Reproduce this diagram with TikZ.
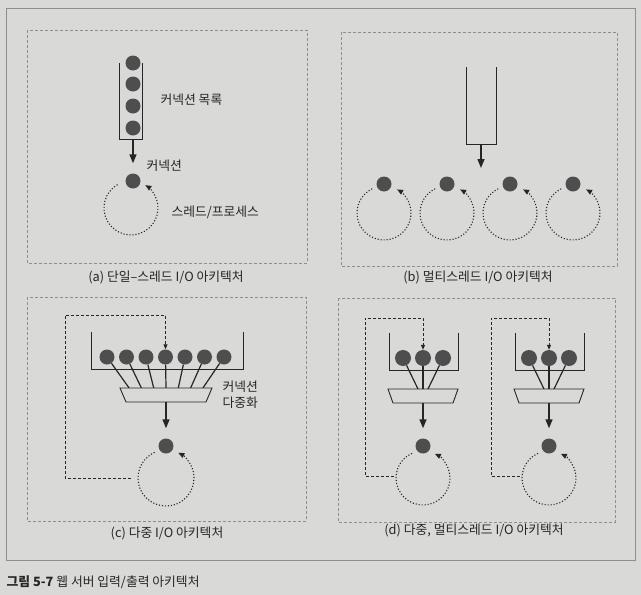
\documentclass[tikz,border=0pt]{standalone}
\usepackage{fontspec}
\setmainfont{Noto Sans CJK KR}
\usetikzlibrary{arrows.meta,positioning}
\definecolor{paper}{HTML}{D9D9D7}
\definecolor{ballgray}{HTML}{4E4E4E}
\definecolor{ink}{HTML}{262626}
\definecolor{framegray}{HTML}{8E8E8E}

\begin{document}
\begin{tikzpicture}[
  x=1pt, y=-1pt,
  font=\fontsize{12.8}{16}\selectfont, text=ink,
  panel/.style={draw=framegray, line width=0.6pt, dash pattern=on 3pt off 2pt},
  ball/.style={circle, fill=ballgray, inner sep=0pt, minimum size=15pt},
  tube/.style={draw=ink, line width=0.9pt},
  spoke/.style={draw=ink, line width=1.2pt},
  mux/.style={draw=ink, line width=0.9pt, fill=paper},
  arr/.style={draw=ink, line width=1.4pt, -{Triangle[length=9pt,width=7pt]}},
  spin/.style={draw=ink, line width=1.1pt, dash pattern=on 1.1pt off 1.9pt,
               -{Triangle[length=6pt,width=5pt]}},
  back/.style={draw=ink, line width=0.8pt, dash pattern=on 3pt off 2pt,
               -{Triangle[length=5pt,width=4pt]}},
  lab/.style={anchor=west},
]
% page and outer frame
\fill[paper] (0,0) rectangle (641,595);
\draw[framegray, line width=0.8pt] (6,8) rectangle (635,560);

% dashed panels
\draw[panel] (27,30) rectangle (307,263);
\draw[panel] (341,32) rectangle (617,266);
\draw[panel] (27,297) rectangle (306,521);
\draw[panel] (338,298) rectangle (615,522);

% (a) single thread
\draw[tube] (119,63) |- (142,139) -- (142,63);
\foreach \y [count=\i] in {63,84,106,128}
  \node[ball] (qa\i) at (133,\y) {};
\coordinate (qa) at (133,139);
\node[ball] (ca) at (133,181) {};
\coordinate (ta) at (131,208);
\draw[arr] (qa) -- ([yshift=10pt]ca.north);
\draw[spin] ([shift={(120:27pt)}]ta) arc[start angle=120, end angle=418, radius=27pt];
\node[lab] (la1) at (157,100) {커넥션 목록};
\node[lab] (la2) at (143,166) {커넥션};
\node[lab] (la3) at (168,212) {스레드/프로세스};
\node (capa) at (166,277) {(a) 단일--스레드 I/O 아키텍처};

% (b) multi thread
\draw[tube] (466,67) |- (496,144) -- (496,67);
\coordinate (qb) at (481,144);
\coordinate (qbend) at (481,168);
\draw[arr] (qb) -- (qbend);
\foreach \x [count=\i] in {384,447,510,573} {
  \node[ball] (cb\i) at (\x,184) {};
  \coordinate (tb\i) at (\x,213);
  \draw[spin] ([shift={(116:27pt)}]tb\i) arc[start angle=116, end angle=421, radius=27pt];
}
\node (capb) at (478,277) {(b) 멀티스레드 I/O 아키텍처};

% (c) multiplexed
\draw[tube] (91,332) |- (243,369) -- (243,332);
\coordinate (mxc) at (166,388);
\foreach \x [count=\i] in {107,126.5,146,165.5,185,204.5,224} {
  \node[ball] (cc\i) at (\x,357) {};
  \draw[spoke] (cc\i) -- ([xshift={(\i-4)*12.3pt}]mxc);
}
\draw[mux] (120,388) -- (212,388) -- (206,402) -- (126,402) -- cycle;
\coordinate (mxco) at (166,402);
\node[ball] (sc) at (166,446) {};
\coordinate (tc) at (166,478);
\draw[arr] (mxco) -- ([yshift=10pt]sc.north);
\draw[spin] ([shift={(114:28pt)}]tc) arc[start angle=114, end angle=424, radius=28pt];
\coordinate (rc) at (131,478);
\draw[back] (rc) -| (65,315) -| (cc4);
\node[lab, align=left] (lc) at (219,395) {커넥션\\다중화};
\node (capc) at (167,533) {(c) 다중 I/O 아키텍처};

% (d) multiplexed, multi thread
\foreach \dx [count=\g] in {0,126} {
  \begin{scope}[xshift=\dx pt]
    \draw[tube] (389,333) |- (458,370) -- (458,333);
    \coordinate (mxd\g) at (423,389);
    \foreach \x [count=\i] in {403,423,443} {
      \node[ball, minimum size=16pt] (cd\g\i) at (\x,358) {};
      \draw[spoke] (cd\g\i) -- ([xshift={(\i-2)*5pt}]mxd\g);
    }
    \draw[mux] (388,389) -- (458,389) -- (453,403) -- (393,403) -- cycle;
    \coordinate (mxdo\g) at (423,403);
    \node[ball] (sd\g) at (423,446) {};
    \coordinate (td\g) at (423,478);
    \draw[arr] (mxdo\g) -- ([yshift=10pt]sd\g.north);
    \draw[spin] ([shift={(114:27pt)}]td\g) arc[start angle=114, end angle=424, radius=27pt];
    \coordinate (rd\g) at (394,476);
    \draw[back] (rd\g) -| (365,318) -| (cd\g2);
  \end{scope}
}
\node (capd) at (474,530) {(d) 다중, 멀티스레드 I/O 아키텍처};

% figure caption
\node[anchor=west] (fig) at (3,582) {\textbf{그림 5-7} 웹 서버 입력/출력 아키텍처};
\end{tikzpicture}
\end{document}
